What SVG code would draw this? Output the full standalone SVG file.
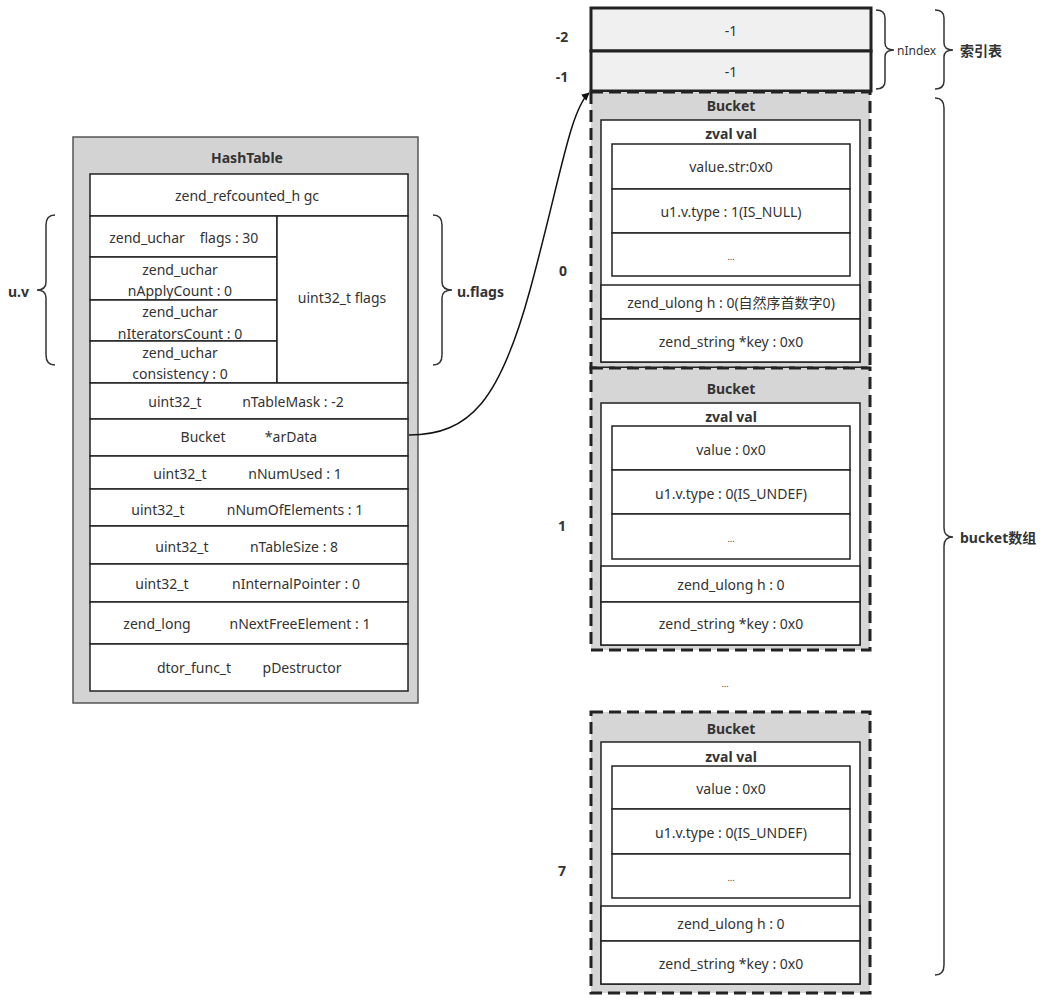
<svg xmlns="http://www.w3.org/2000/svg" width="1051" height="1002" viewBox="0 0 1051 1002">
<style>
text{font-family:"Noto Sans","Noto Sans CJK SC",sans-serif;font-size:14px;fill:#333;text-anchor:middle;dominant-baseline:central}
.b{font-weight:bold}
.l{text-anchor:start}
.outer{fill:#d3d3d3;stroke:#555;stroke-width:1.5}
.cell{fill:#fff;stroke:#222;stroke-width:1.5}
.idx{fill:#f0f0f0;stroke:#222;stroke-width:3}
.bk{fill:#d6d6d6;stroke:#222;stroke-width:3;stroke-dasharray:12 6}
.brace{fill:none;stroke:#333;stroke-width:1.5}
.dots{font-size:9px}
</style>
<defs>
<marker id="arr" viewBox="0 0 10 10" refX="9" refY="5" markerWidth="8" markerHeight="8" orient="auto" markerUnits="userSpaceOnUse">
<path d="M0,0 L10,5 L0,10 z" fill="#111"/>
</marker>
</defs>
<rect width="1051" height="1002" fill="#fff"/>

<g id="hashtable">
<rect class="outer" x="73" y="137" width="345" height="566"/>
<text class="b" x="247" y="157">HashTable</text>
<rect class="cell" x="90" y="174" width="318" height="42"/>
<text x="247" y="195">zend_refcounted_h gc</text>
<rect class="cell" x="90" y="216" width="187" height="41"/>
<text x="147" y="237">zend_uchar</text><text x="229" y="237">flags : 30</text>
<rect class="cell" x="90" y="257" width="187" height="43"/>
<text x="180" y="269">zend_uchar</text>
<text x="180" y="290">nApplyCount : 0</text>
<rect class="cell" x="90" y="300" width="187" height="41"/>
<text x="180" y="311">zend_uchar</text>
<text x="180" y="333">nIteratorsCount : 0</text>
<rect class="cell" x="90" y="341" width="187" height="42"/>
<text x="180" y="352">zend_uchar</text>
<text x="180" y="373">consistency : 0</text>
<rect class="cell" x="277" y="216" width="131" height="167"/>
<text x="342" y="297">uint32_t flags</text>
<rect class="cell" x="90" y="383" width="318" height="36"/>
<text x="175" y="401">uint32_t</text><text x="293" y="401">nTableMask : -2</text>
<rect class="cell" x="90" y="419" width="318" height="37"/>
<text x="203" y="436">Bucket</text><text x="291" y="436">*arData</text>
<rect class="cell" x="90" y="456" width="318" height="33"/>
<text x="180" y="473">uint32_t</text><text x="295" y="473">nNumUsed : 1</text>
<rect class="cell" x="90" y="489" width="318" height="37"/>
<text x="158" y="509">uint32_t</text><text x="295" y="509">nNumOfElements : 1</text>
<rect class="cell" x="90" y="526" width="318" height="38"/>
<text x="182" y="546">uint32_t</text><text x="294" y="546">nTableSize : 8</text>
<rect class="cell" x="90" y="564" width="318" height="38"/>
<text x="162" y="583">uint32_t</text><text x="296" y="583">nInternalPointer : 0</text>
<rect class="cell" x="90" y="602" width="318" height="42"/>
<text x="157" y="623">zend_long</text><text x="300" y="623">nNextFreeElement : 1</text>
<rect class="cell" x="90" y="644" width="318" height="47"/>
<text x="194" y="667">dtor_func_t</text><text x="302" y="667">pDestructor</text>
</g>

<g id="brace-uv">
<path class="brace" d="M55,215 Q46,215 46,225 L46,282 Q46,290 37,290 Q46,290 46,298 L46,355 Q46,365 55,365"/>
<text class="b l" x="8" y="291">u.v</text>
</g>
<g id="brace-uflags">
<path class="brace" d="M433,215 Q442,215 442,225 L442,282 Q442,290 452,290 Q442,290 442,298 L442,355 Q442,365 433,365"/>
<text class="b l" x="457" y="291">u.flags</text>
</g>

<g id="index-table">
<rect class="idx" x="591" y="8" width="280" height="43"/>
<text x="731" y="30">-1</text>
<rect class="idx" x="591" y="51" width="280" height="40"/>
<text x="731" y="71">-1</text>
<text class="b" x="562" y="36">-2</text>
<text class="b" x="562" y="76">-1</text>
</g>
<g id="brace-nindex">
<path class="brace" d="M876,10 Q885,10 885,18 L885,43 Q885,50 894,50 Q885,50 885,57 L885,81 Q885,89 876,89"/>
<text class="l" x="897" y="50" style="font-size:12px">nIndex</text>
</g>
<g id="brace-index">
<path class="brace" d="M935,10 Q944,10 944,18 L944,43 Q944,50 953,50 Q944,50 944,57 L944,81 Q944,89 935,89"/>
<text class="b l" x="960" y="50">索引表</text>
</g>

<g id="bucket0">
<rect class="bk" x="591" y="92" width="279" height="276"/>
<text class="b" x="731" y="105">Bucket</text>
<rect class="cell" x="601" y="120" width="259" height="242"/>
<text class="b" x="731" y="133">zval val</text>
<rect class="cell" x="612" y="144" width="238" height="45"/>
<text x="731" y="166">value.str:0x0</text>
<rect class="cell" x="612" y="189" width="238" height="44"/>
<text x="731" y="211">u1.v.type : 1(IS_NULL)</text>
<rect class="cell" x="612" y="233" width="238" height="43"/>
<text class="dots" x="731" y="256">...</text>
<rect class="cell" x="601" y="285" width="259" height="34"/>
<text x="731" y="302">zend_ulong h : 0(自然序首数字0)</text>
<rect class="cell" x="601" y="319" width="259" height="43"/>
<text x="731" y="341">zend_string *key : 0x0</text>
<text class="b" x="563" y="270">0</text>
</g>

<g id="bucket1">
<rect class="bk" x="591" y="368" width="279" height="282"/>
<text class="b" x="731" y="388">Bucket</text>
<rect class="cell" x="601" y="403" width="259" height="242"/>
<text class="b" x="731" y="416">zval val</text>
<rect class="cell" x="612" y="426" width="238" height="44"/>
<text x="731" y="449">value : 0x0</text>
<rect class="cell" x="612" y="470" width="238" height="44"/>
<text x="731" y="493">u1.v.type : 0(IS_UNDEF)</text>
<rect class="cell" x="612" y="514" width="238" height="45"/>
<text class="dots" x="731" y="538">...</text>
<rect class="cell" x="601" y="566" width="259" height="36"/>
<text x="731" y="584">zend_ulong h : 0</text>
<rect class="cell" x="601" y="602" width="259" height="43"/>
<text x="731" y="623">zend_string *key : 0x0</text>
<text class="b" x="562" y="525">1</text>
</g>

<text x="725" y="683" class="dots">...</text>

<g id="bucket7">
<rect class="bk" x="591" y="712" width="279" height="281"/>
<text class="b" x="731" y="728">Bucket</text>
<rect class="cell" x="601" y="742" width="259" height="242"/>
<text class="b" x="731" y="756">zval val</text>
<rect class="cell" x="612" y="766" width="238" height="43"/>
<text x="731" y="788">value : 0x0</text>
<rect class="cell" x="612" y="809" width="238" height="45"/>
<text x="731" y="832">u1.v.type : 0(IS_UNDEF)</text>
<rect class="cell" x="612" y="854" width="238" height="44"/>
<text class="dots" x="731" y="877">...</text>
<rect class="cell" x="601" y="906" width="259" height="35"/>
<text x="731" y="923">zend_ulong h : 0</text>
<rect class="cell" x="601" y="941" width="259" height="43"/>
<text x="731" y="963">zend_string *key : 0x0</text>
<text class="b" x="562" y="870">7</text>
</g>

<g id="brace-bucket">
<path class="brace" d="M935,98 Q944,98 944,108 L944,528 Q944,537 953,537 Q944,537 944,546 L944,965 Q944,975 935,975"/>
<text class="b l" x="960" y="537">bucket数组</text>
</g>

<g id="connectors">
<path d="M409,435 C470,435 500,400 530,290 S570,110 589,93" fill="none" stroke="#111" stroke-width="1.5" marker-end="url(#arr)"/>
</g>
</svg>
